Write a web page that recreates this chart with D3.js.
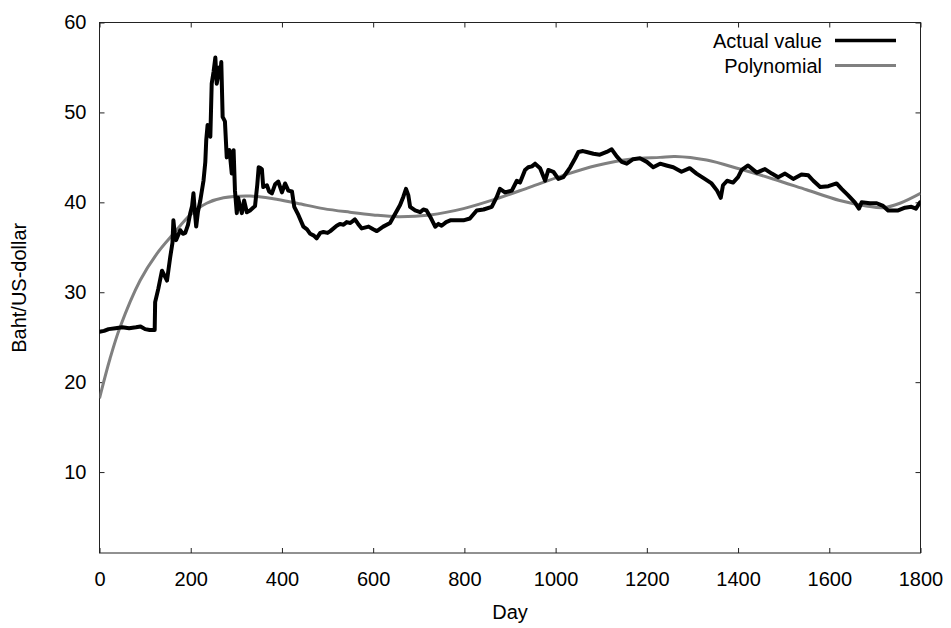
<!DOCTYPE html>
<html>
<head>
<meta charset="utf-8">
<script src="https://cdn.jsdelivr.net/npm/d3@7"></script>
<style>
  html, body { margin: 0; padding: 0; background: #fff; }
  svg { display: block; }
  text { font-family: "Liberation Sans", Arial, sans-serif; fill: #000; }
</style>
</head>
<body>
<script>
// ---- data ----
const actualDays = [0,10,20,35,50,65,80,90,100,110,121,122,129,137,143,148,155,160,162,165,168,177,183,188,194,199,203,206,209,212,216,221,228,232,234,237,240,243,246,250,254,257,260,262,265,267,270,275,279,285,290,294,297,301,304,307,312,317,323,330,341,346,349,353,356,359,367,372,378,385,392,400,407,414,422,427,436,447,455,462,470,476,484,491,500,506,520,527,535,542,550,560,567,575,590,600,608,622,637,648,659,666,672,677,681,692,703,710,717,725,736,743,750,760,769,783,798,812,827,842,860,871,878,889,904,915,922,933,940,948,955,966,977,984,995,1006,1017,1032,1043,1050,1060,1068,1083,1097,1112,1123,1134,1145,1156,1170,1185,1200,1214,1229,1243,1258,1276,1294,1309,1327,1342,1354,1362,1367,1376,1389,1400,1408,1422,1441,1459,1474,1488,1503,1521,1539,1554,1565,1580,1598,1616,1627,1641,1656,1665,1671,1689,1704,1718,1729,1751,1766,1780,1790,1799];
const actualValues = [25.6,25.7,25.9,26.0,26.1,26.0,26.1,26.2,25.9,25.8,25.8,28.9,30.4,32.4,31.8,31.3,33.9,35.5,38.0,36.5,35.8,36.9,36.5,36.6,37.5,38.8,39.6,41.0,39.0,37.3,39.0,40.2,42.4,44.5,46.9,48.6,48.0,47.3,53.2,54.5,56.1,53.2,54.0,55.0,54.2,55.6,49.5,49.0,45.0,45.8,43.2,45.8,41.3,38.8,40.5,39.8,38.8,40.2,38.9,39.1,39.6,42.0,43.9,43.8,43.7,41.7,41.9,41.2,41.0,42.0,42.3,41.1,42.1,41.3,41.2,39.5,38.6,37.3,37.0,36.5,36.3,36.0,36.6,36.7,36.6,36.8,37.4,37.6,37.5,37.8,37.7,38.1,37.6,37.1,37.3,37.0,36.8,37.3,37.7,38.7,39.7,40.6,41.5,40.8,39.5,39.1,38.9,39.2,39.1,38.4,37.3,37.6,37.4,37.8,38.0,38.0,38.0,38.2,39.1,39.2,39.5,40.6,41.5,41.1,41.3,42.4,42.2,43.6,43.9,44.0,44.3,43.8,42.4,43.6,43.4,42.6,42.8,43.9,44.9,45.6,45.7,45.6,45.4,45.3,45.6,45.9,45.1,44.5,44.3,44.8,44.9,44.5,43.9,44.3,44.1,43.9,43.4,43.8,43.2,42.6,42.1,41.3,40.5,41.9,42.4,42.2,42.8,43.6,44.1,43.3,43.7,43.2,42.8,43.2,42.6,43.1,43.0,42.4,41.7,41.8,42.1,41.5,40.8,40.0,39.3,40.0,39.9,39.9,39.6,39.1,39.1,39.4,39.5,39.3,40.0];

const polyDays = [0,23,45,89,126,162,199,235,272,330,381,433,491,549,600,655,725,798,871,944,1017,1090,1163,1229,1262,1331,1404,1477,1550,1623,1681,1718,1755,1800];
const polyValues = [18.2,22.6,26.1,31.3,34.3,36.5,38.6,39.9,40.5,40.7,40.4,39.9,39.3,38.9,38.6,38.4,38.6,39.3,40.4,41.7,43.0,44.1,44.8,45.0,45.1,44.7,43.7,42.6,41.4,40.2,39.6,39.4,39.9,41.0];

const xTicks = [0,200,400,600,800,1000,1200,1400,1600,1800];
const yTicks = [10,20,30,40,50,60];
const seriesNames = ["Actual value", "Polynomial"];
const xLabel = "Day";
const yLabel = "Baht/US-dollar";

// ---- layout ----
const W = 951, H = 628;
const m = { left: 99.5, right: 30.5, top: 22.5, bottom: 75 };
const iw = W - m.left - m.right, ih = H - m.top - m.bottom;

const svg = d3.select("body").append("svg").attr("width", W).attr("height", H);
const g = svg.append("g").attr("transform", `translate(${m.left},${m.top})`);

const x = d3.scaleLinear().domain([0, 1800]).range([0, iw]);
const y = d3.scaleLinear().domain([1, 60]).range([ih, 0]);

const fontSize = 20;
const tk = 5;

// axes
const xAxis = g.append("g").attr("transform", `translate(0,${ih})`)
  .call(d3.axisBottom(x).tickValues(xTicks).tickSize(-tk).tickPadding(19).tickFormat(d3.format("d")));
const yAxis = g.append("g")
  .call(d3.axisLeft(y).tickValues(yTicks).tickSize(-tk).tickPadding(13).tickFormat(d3.format("d")));
const xTop = g.append("g").call(d3.axisTop(x).tickValues(xTicks).tickSize(-tk).tickFormat(""));
const yRight = g.append("g").attr("transform", `translate(${iw},0)`)
  .call(d3.axisRight(y).tickValues(yTicks).tickSize(-tk).tickFormat(""));

[xAxis, yAxis, xTop, yRight].forEach(a => {
  a.select(".domain").remove();
  a.selectAll("line").attr("stroke", "#222").attr("stroke-width", 1);
  a.selectAll("text").attr("font-size", fontSize).attr("font-family", "Liberation Sans, Arial, sans-serif").attr("fill", "#000");
});

// frame
g.append("rect").attr("x", 0).attr("y", 0).attr("width", iw).attr("height", ih)
  .attr("fill", "none").attr("stroke", "#222").attr("stroke-width", 1);

// clip
svg.append("defs").append("clipPath").attr("id", "clip")
  .append("rect").attr("x", 0).attr("y", 0).attr("width", iw).attr("height", ih);
const plot = g.append("g").attr("clip-path", "url(#clip)");

const actual = actualDays.map((d, i) => [d, actualValues[i]]);
const poly = polyDays.map((d, i) => [d, polyValues[i]]);

plot.append("path").datum(poly)
  .attr("fill", "none").attr("stroke", "#808080").attr("stroke-width", 3)
  .attr("d", d3.line().x(d => x(d[0])).y(d => y(d[1])).curve(d3.curveCatmullRom.alpha(0.5)));

plot.append("path").datum(actual)
  .attr("fill", "none").attr("stroke", "#000").attr("stroke-width", 4)
  .attr("stroke-linejoin", "round").attr("stroke-linecap", "round")
  .attr("d", d3.line().x(d => x(d[0])).y(d => y(d[1])));

// legend
const legend = g.append("g");
const legColors = ["#000", "#808080"];
const legWidths = [3.5, 3];
seriesNames.forEach((name, i) => {
  const ly = 18 + i * 25;
  legend.append("text").attr("x", 822 - m.left).attr("y", ly).attr("dy", "0.35em")
    .attr("text-anchor", "end").attr("font-size", fontSize).text(name);
  legend.append("line").attr("x1", 835 - m.left).attr("x2", 896 - m.left)
    .attr("y1", ly).attr("y2", ly).attr("stroke", legColors[i]).attr("stroke-width", legWidths[i]);
});

// axis labels
svg.append("text").attr("x", m.left + iw / 2).attr("y", 612).attr("dy", "0.35em")
  .attr("text-anchor", "middle").attr("font-size", fontSize).text(xLabel);
svg.append("text").attr("transform", `translate(19,${m.top + ih / 2}) rotate(-90)`)
  .attr("dy", "0.35em").attr("text-anchor", "middle").attr("font-size", fontSize).text(yLabel);
</script>
</body>
</html>
